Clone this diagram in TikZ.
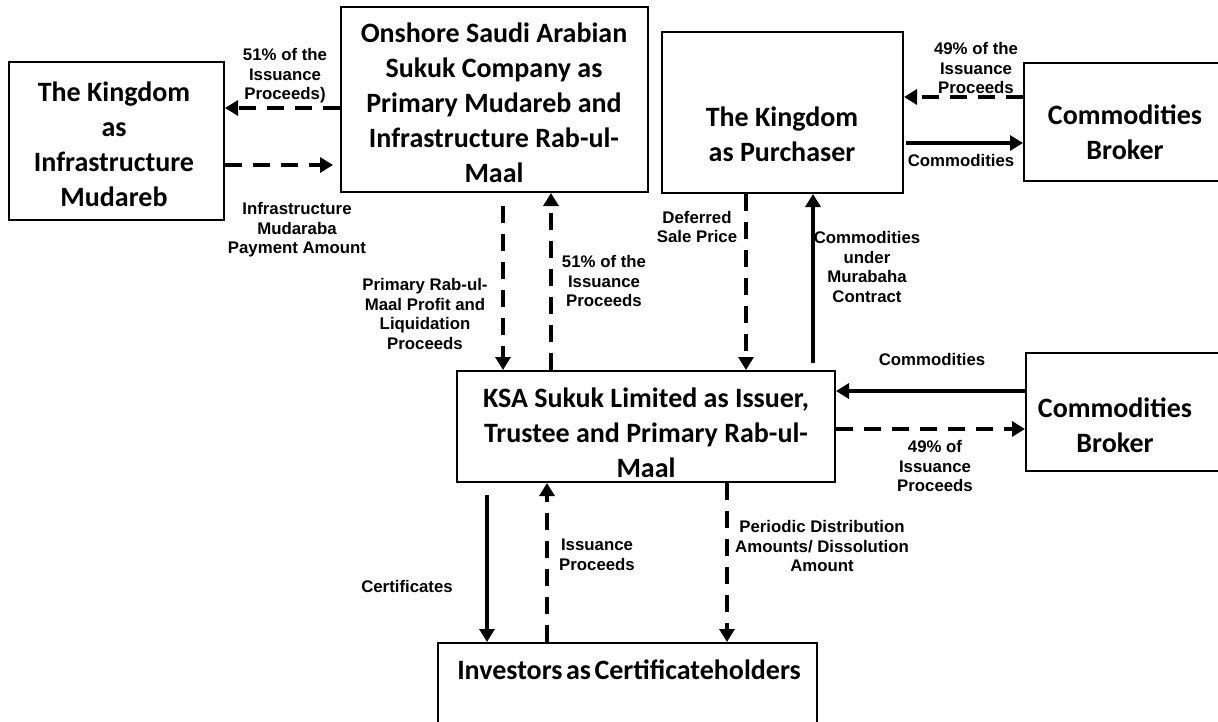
\documentclass[tikz,border=0pt]{standalone}
\usepackage{fontspec}
\setmainfont{Carlito}
\newfontfamily\lblfont{Liberation Sans}
\usetikzlibrary{arrows.meta}
\tikzset{
  box/.style={draw=black, line width=2pt, fill=none, inner sep=0pt},
  boxtext/.style={align=center, inner sep=0pt, font=\bfseries\fontsize{28}{35}\selectfont},
  lbl/.style={align=center, inner sep=0pt, font=\lblfont\bfseries\fontsize{16.8}{19.5}\selectfont},
  conn/.style={line width=3.5pt, -{Triangle[length=13pt,width=15pt]}},
  sol/.style={conn},
  dsh/.style={conn, dash pattern=on 17pt off 11pt}
}
\begin{document}
\begin{tikzpicture}[x=1pt,y=-1pt]
\useasboundingbox (0,0) rectangle (1218,721);
% boxes
\node[box, minimum width=215pt, minimum height=158pt] (A) at (116.5,141) {};
\node[box, minimum width=307pt, minimum height=185pt] (B) at (494.5,99.5) {};
\node[box, minimum width=241pt, minimum height=161pt] (C) at (782.5,112.5) {};
\node[box, minimum width=208pt, minimum height=118pt] (D) at (1128,122) {};
\node[box, minimum width=378pt, minimum height=111pt] (E) at (646,426.5) {};
\node[box, minimum width=206pt, minimum height=118pt] (F) at (1129,412) {};
\node[box, minimum width=379pt, minimum height=97pt] (G) at (627.5,691.5) {};
% box texts
\node[boxtext] (At) at (114,144) {The Kingdom\\as\\Infrastructure\\Mudareb};
\node[boxtext] (Bt) at (494,103) {Onshore Saudi Arabian\\Sukuk Company as\\Primary Mudareb and\\Infrastructure Rab-ul-\\Maal};
\node[boxtext] (Ct) at (782,134) {The Kingdom\\as Purchaser};
\node[boxtext] (Dt) at (1125,132) {Commodities\\Broker};
\node[boxtext] (Et) at (646,433) {KSA Sukuk Limited as Issuer,\\Trustee and Primary Rab-ul-\\Maal};
\node[boxtext] (Ft) at (1115,425) {Commodities\\Broker};
\node[boxtext] (Gt) at (629,670) {Investors\hspace{3.5pt}as\hspace{3.5pt}Certificateholders};
% connector anchor points
\coordinate (p1) at ([yshift=-8.5pt]B.west);
\coordinate (p2) at ([yshift=-24pt]A.east);
\coordinate (p3) at ([xshift=8.5pt]B.south);
\coordinate (p4) at ([xshift=56.5pt]B.south);
\coordinate (p5) at ([xshift=-36.5pt]C.south);
\coordinate (p6) at ([xshift=30.5pt]C.south);
\coordinate (p7) at ([yshift=25pt]D.west);
\coordinate (p8) at ([yshift=-30.5pt]C.east);
\coordinate (p9) at ([yshift=21pt]F.west);
\coordinate (p10) at ([yshift=-17pt]F.west);
\coordinate (p11) at ([xshift=-159pt]E.south);
\coordinate (p12) at ([xshift=-99pt]E.south);
\coordinate (p13) at ([xshift=81pt]E.south);
% connectors
\draw[dsh] (p1) -- (p1 -| A.east);
\draw[dsh, shorten >=7pt] (p2) -- (p2 -| B.west);
\draw[dsh, shorten <=13pt] (p3) -- (p3 |- E.north);
\draw[dsh] (p4 |- E.north) -- (p4);
\draw[dsh] (p5) -- (p5 |- E.north);
\draw[sol, shorten <=7pt] (p6 |- E.north) -- (p6);
\draw[dsh] (p7) -- (p7 -| C.east);
\draw[sol, shorten <=2pt] (p8) -- (p8 -| D.west);
\draw[sol] (p9) -- (p9 -| E.east);
\draw[dsh] (p10 -| E.east) -- (p10);
\draw[sol, shorten <=12pt] (p11) -- (p11 |- G.north);
\draw[dsh] (p12 |- G.north) -- (p12);
\draw[dsh] (p13) -- (p13 |- G.north);
% labels
\node[lbl] (l1) at (285,76) {51\% of the\\Issuance\\Proceeds)};
\node[lbl] (l2) at (297,230) {Infrastructure\\Mudaraba\\Payment Amount};
\node[lbl] (l3) at (425,314) {Primary Rab-ul-\\Maal Profit and\\Liquidation\\Proceeds};
\node[lbl] (l4) at (604,281) {51\% of the\\Issuance\\Proceeds};
\node[lbl] (l5) at (697,227) {Deferred\\Sale Price};
\node[lbl] (l6) at (867,267) {Commodities\\under\\Murabaha\\Contract};
\node[lbl] (l7) at (976,68) {49\% of the\\Issuance\\Proceeds};
\node[lbl] (l8) at (961,160) {Commodities};
\node[lbl] (l9) at (932,359) {Commodities};
\node[lbl] (l10) at (935,466) {49\% of\\Issuance\\Proceeds};
\node[lbl] (l11) at (407,586) {Certificates};
\node[lbl] (l12) at (597,555) {Issuance\\Proceeds};
\node[lbl] (l13) at (822,546) {Periodic Distribution\\Amounts/ Dissolution\\Amount};
\end{tikzpicture}
\end{document}
